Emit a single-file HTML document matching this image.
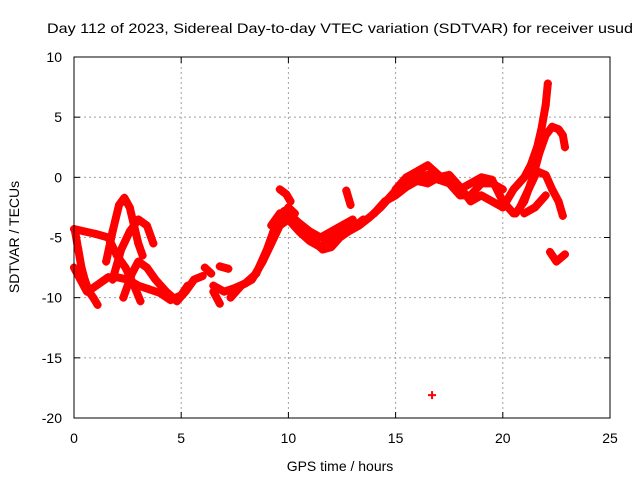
<!DOCTYPE html>
<html><head><meta charset="utf-8"><style>
html,body{margin:0;padding:0;background:#fff}
svg{display:block;font-family:"Liberation Sans",sans-serif}
</style></head><body>
<svg id="chart" width="640" height="480">
<text x="340" y="33" text-anchor="middle" font-size="14" textLength="586" lengthAdjust="spacingAndGlyphs">Day 112 of 2023, Sidereal Day-to-day VTEC variation (SDTVAR) for receiver usud</text>
<text x="340" y="471" text-anchor="middle" font-size="14">GPS time / hours</text>
<text transform="translate(19,237) rotate(-90)" text-anchor="middle" font-size="14">SDTVAR / TECUs</text>
<g id="grid"></g>
<g id="ticks"></g>
<g id="series"></g>
<rect x="74" y="57" width="536" height="361" fill="none" stroke="#000" stroke-width="1"/>
</svg>
<script>
const xTicks=[0,5,10,15,20,25];
const yTicks=[10,5,0,-5,-10,-15,-20];
const trackA=[[0.05,-4.5],[0.2,-6],[0.35,-7.5],[0.5,-8.5],[0.7,-9.5],[0.9,-10],[1.1,-10.6]];
const trackB=[[0,-7.5],[0.3,-8.5],[0.6,-9.5],[0.8,-9.3],[1.2,-8.8],[1.6,-8.3],[2,-8.3],[2.5,-8.5],[3,-9],[3.5,-9.3],[4,-9.6],[4.5,-10.2],[5,-9.8],[5.3,-9]];
const trackC=[[0,-4.3],[0.5,-4.5],[1,-4.7],[1.6,-5]];
const trackD=[[1.5,-7],[1.8,-4.5],[2.1,-2.3],[2.35,-1.7],[2.6,-2.5],[2.8,-4],[3,-5.5],[3.2,-6.5]];
const trackE=[[1.8,-8.5],[2.2,-6],[2.6,-4.5],[3,-3.5],[3.4,-4],[3.7,-5.5]];
const trackF=[[1.6,-5],[2,-6.5],[2.4,-7.5],[2.8,-9],[3.1,-10.3]];
const trackG=[[2.3,-10],[2.7,-8],[3,-7],[3.4,-7.5],[3.8,-8.5],[4.3,-9.5],[4.8,-10.3],[5.2,-9.5],[5.6,-8.5],[6,-8.2]];
const trackG2=[[6.1,-7.5],[6.4,-8]];
const trackH=[[6.5,-9.5],[6.8,-10.5]];
const trackH2=[[6.8,-7.4],[7.2,-7.6]];
const trackI=[[6.5,-9],[7,-9.5],[7.5,-9.2],[8,-8.8],[8.5,-8],[9,-6],[9.3,-4.5],[9.6,-3.5],[10,-2.5],[10.3,-3]];
const trackI2=[[7.3,-10],[7.8,-9],[8.3,-8.5],[8.8,-7],[9.2,-5.5],[9.6,-4],[10,-3.5],[10.5,-4.5],[11,-5.3],[11.5,-5.8],[12,-5],[12.5,-4.5],[13,-4.2],[13.5,-3.5]];
const trackI3=[[9.2,-4],[9.6,-3],[10,-3],[10.5,-3.8],[11,-4.5],[11.5,-5],[12,-4.5],[12.5,-4],[13,-3.5]];
const trackJ=[[9.6,-1],[9.9,-1.4],[10.1,-2]];
const trackJ2=[[12.7,-1.1],[12.9,-2.3]];
const trackK=[[9.8,-2.8],[10.3,-3.5],[10.8,-4.5],[11.3,-5.5],[11.6,-6],[12,-5.8],[12.4,-5],[12.8,-4.5],[13.3,-4],[13.8,-3.3],[14.3,-2.5],[14.8,-1.5],[15.3,-0.5],[15.8,0],[16.5,0.2],[17,-0.2],[17.5,-0.5],[18,-1.5],[18.5,-1.5],[19,-0.5],[19.5,-0.5],[20,-1]];
const trackK2=[[15,-1],[15.5,0],[16,0.5],[16.5,1],[17,0.2],[17.5,-0.5],[18,-1],[18.5,-0.5],[19,0],[19.5,-0.2],[20,-2],[20.5,-3]];
const trackK3=[[14,-3],[14.5,-2],[15,-1.5],[15.5,-0.8],[16,-0.3],[16.5,-0.5],[17,0],[17.5,0.2],[18,-0.8],[18.5,-2],[19,-1.5],[19.5,-2],[20,-2.5]];
const trackL=[[20,-2.5],[20.5,-1],[21,0],[21.3,1],[21.6,2.5],[21.8,4],[22,6],[22.1,7.8]];
const trackM=[[20.6,-3],[21,-2],[21.4,0],[21.7,2],[22,3.5],[22.3,4.2],[22.6,4],[22.8,3.5],[22.9,2.5]];
const trackN=[[20.8,-2.5],[21.2,-1],[21.6,0.5],[22,0.2],[22.3,-1],[22.6,-2],[22.8,-3.2]];
const trackO=[[21,-3],[21.5,-2.5],[22,-1.5]];
const trackP=[[22.2,-6.2],[22.5,-7],[22.9,-6.4]];
const outlier=[[16.7,-18.1]];
const tracks=[trackA,trackB,trackC,trackD,trackE,trackF,trackG,trackG2,trackH,trackH2,trackI,trackI2,trackI3,trackJ,trackJ2,trackK,trackK2,trackK3,trackL,trackM,trackN,trackO,trackP,outlier];

const X0=74,X1=610,Y0=418,Y1=57;
function xs(v){return X0+(v-0)/(25-0)*(X1-X0);}
function ys(v){return Y0-(v-(-20))/(10-(-20))*(Y0-Y1);}
const NS='http://www.w3.org/2000/svg';
function mk(tag,attrs,parent){const e=document.createElementNS(NS,tag);for(const k in attrs)e.setAttribute(k,attrs[k]);parent.appendChild(e);return e;}
const grid=document.getElementById('grid'),ticks=document.getElementById('ticks'),series=document.getElementById('series');
xTicks.forEach(t=>{
  const x=xs(t);
  if(t>0&&t<25){const g=mk('line',{x1:x,x2:x,y1:Y1,y2:Y0,stroke:'#a0a0a0','stroke-dasharray':'2,3'},grid);
  
  }
  mk('line',{x1:x,x2:x,y1:Y0,y2:Y0-6,stroke:'#000'},ticks);
  mk('line',{x1:x,x2:x,y1:Y1,y2:Y1+6,stroke:'#000'},ticks);
  const l=mk('text',{x:x,y:443,'text-anchor':'middle','font-size':'14'},ticks);l.textContent=t;
  
  
});
yTicks.forEach(t=>{
  const y=ys(t);
  if(t>-20&&t<10){const g=mk('line',{x1:X0,x2:X1,y1:y,y2:y,stroke:'#a0a0a0','stroke-dasharray':'2,3'},grid);
  
  }
  mk('line',{x1:X0,x2:X0+6,y1:y,y2:y,stroke:'#000'},ticks);
  mk('line',{x1:X1,x2:X1-6,y1:y,y2:y,stroke:'#000'},ticks);
  const l=mk('text',{x:62,y:y+5,'text-anchor':'end','font-size':'14'},ticks);l.textContent=t;
  
  
});
tracks.forEach(tr=>{
  if(tr.length>1){
    const p=mk('polyline',{points:tr.map(d=>xs(d[0])+','+ys(d[1])).join(' '),fill:'none',stroke:'#ff0000','stroke-width':'8','stroke-linejoin':'round','stroke-linecap':'round'},series);
    
    
  }
  tr.forEach(d=>{
    const x=xs(d[0]),y=ys(d[1]);
    const m=mk('path',{d:`M${x-4},${y}H${x+4}M${x},${y-4}V${y+4}`,stroke:'#ff0000','stroke-width':'2'},series);
    
    
  });
});
</script>
</body></html>
